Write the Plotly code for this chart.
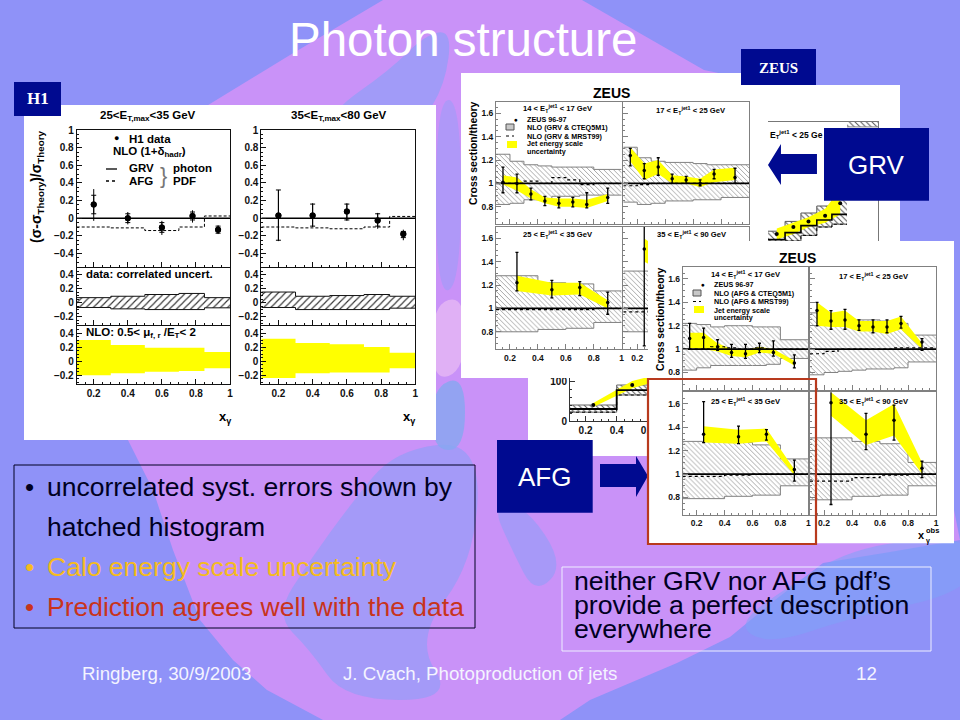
import plotly.graph_objects as go

# ---------- H1 data ----------
H1_X = [0.2, 0.4, 0.6, 0.78, 0.93]
H1_EDGES = [0.1, 0.3, 0.5, 0.7, 0.85, 1.0]

H1L_Y = [0.155, 0.0, -0.105, 0.025, -0.13]
H1L_TOT_HI = [0.33, 0.07, -0.03, 0.09, -0.08]
H1L_TOT_LO = [-0.03, -0.07, -0.19, -0.05, -0.18]
H1L_STAT_HI = [0.26, 0.05, -0.05, 0.07, -0.09]
H1L_STAT_LO = [0.05, -0.05, -0.16, -0.02, -0.17]
H1L_AFG = [-0.10, -0.11, -0.14, -0.10, 0.025]
H1L_CORR_HI = [0.07, 0.09, 0.115, 0.13, 0.07]
H1L_CORR_LO = [-0.07, -0.09, -0.10, -0.10, -0.075]
H1L_SCALE_HI = [0.30, 0.23, 0.19, 0.19, 0.13]
H1L_SCALE_LO = [-0.20, -0.17, -0.15, -0.14, -0.10]

H1R_Y = [0.03, 0.03, 0.075, -0.025, -0.18]
H1R_TOT_HI = [0.32, 0.17, 0.17, 0.06, -0.13]
H1R_TOT_LO = [-0.26, -0.10, -0.03, -0.12, -0.25]
H1R_STAT_HI = [0.32, 0.16, 0.16, 0.05, -0.15]
H1R_STAT_LO = [-0.25, -0.09, -0.02, -0.09, -0.22]
H1R_AFG = [-0.10, -0.11, -0.12, -0.10, 0.02]
H1R_CORR_HI = [0.15, 0.09, 0.10, 0.115, 0.09]
H1R_CORR_LO = [-0.07, -0.10, -0.10, -0.10, -0.08]
H1R_SCALE_HI = [0.32, 0.26, 0.24, 0.20, 0.12]
H1R_SCALE_LO = [-0.24, -0.17, -0.16, -0.16, -0.10]

# ---------- ZEUS data ----------
X8 = [0.15, 0.25, 0.35, 0.45, 0.55, 0.65, 0.75, 0.9]
X4 = [0.25, 0.5, 0.7, 0.9]
E8 = [0.1, 0.2, 0.3, 0.4, 0.5, 0.6, 0.7, 0.8, 1.0]
E4 = [0.1, 0.4, 0.6, 0.8, 1.0]

# GRV sheet
G1_Y = [1.01, 1.0, 0.91, 0.85, 0.83, 0.84, 0.82, 0.88]
G1_TOP = [1.14, 1.08, 0.96, 0.89, 0.88, 0.88, 0.92, 0.96]
G1_BOT = [0.92, 0.92, 0.86, 0.81, 0.79, 0.80, 0.79, 0.83]
G1_YEL_HI = [1.07, 1.05, 0.95, 0.88, 0.87, 0.87, 0.86, 0.91]
G1_YEL_LO = [0.99, 0.94, 0.87, 0.83, 0.80, 0.80, 0.79, 0.85]
G1_H_HI = [1.25, 1.19, 1.16, 1.15, 1.14, 1.14, 1.14, 1.12]
G1_H_LO = [0.82, 0.83, 0.86, 0.87, 0.89, 0.89, 0.90, 0.90]
G1_DOT = [1.0, 1.0, 1.02, 1.0, 1.05, 1.03, 0.99, 1.0]

G2_Y = [1.24, 1.11, 1.14, 1.04, 1.03, 1.0, 1.08, 1.05]
G2_TOP = [1.30, 1.17, 1.22, 1.08, 1.06, 1.03, 1.12, 1.13]
G2_BOT = [1.15, 1.04, 1.07, 1.0, 1.0, 0.98, 1.04, 1.0]
G2_YEL_HI = [1.31, 1.17, 1.20, 1.07, 1.06, 1.04, 1.12, 1.135]
G2_YEL_LO = [1.19, 1.03, 1.08, 1.0, 1.0, 0.97, 1.01, 1.03]
G2_H_HI = [1.31, 1.22, 1.19, 1.18, 1.18, 1.17, 1.16, 1.16]
G2_H_LO = [0.84, 0.82, 0.83, 0.85, 0.85, 0.86, 0.86, 0.88]
G2_DOT = [0.98, 0.99, 1.0, 1.0, 1.0, 1.0, 1.0, 1.0]

G3_Y = [1.22, 1.16, 1.18, 1.05]
G3_TOP = [1.48, 1.24, 1.23, 1.14]
G3_BOT = [1.15, 1.09, 1.11, 0.95]
G3_YEL_HI = [1.28, 1.22, 1.22, 1.07]
G3_YEL_LO = [1.15, 1.11, 1.12, 1.0]
G3_H_HI = [1.28, 1.22, 1.21, 1.15]
G3_H_LO = [0.80, 0.82, 0.83, 0.88]
G3_DOT = [0.99, 0.99, 0.99, 1.0]

G4_Y = [1.51, 1.35, 1.3, 1.1]
G4_TOP = [1.72, 1.5, 1.45, 1.17]
G4_BOT = [0.68, 1.2, 1.15, 1.0]
G4_YEL_HI = [1.6, 1.4, 1.35, 1.12]
G4_YEL_LO = [1.4, 1.25, 1.2, 1.02]
G4_H_HI = [1.32, 1.28, 1.26, 1.12]
G4_H_LO = [0.80, 0.82, 0.83, 0.9]
G4_DOT = [0.97, 0.98, 1.0, 1.0]

# AFG sheet
A1_Y = [1.09, 1.10, 1.02, 0.97, 0.96, 1.0, 0.97, 0.88]
A1_TOP = [1.22, 1.18, 1.08, 1.04, 1.04, 1.05, 1.07, 0.95]
A1_BOT = [1.0, 1.0, 0.99, 0.93, 0.92, 0.97, 0.94, 0.84]
A1_YEL_HI = [1.14, 1.14, 1.05, 1.0, 0.99, 1.02, 1.0, 0.90]
A1_YEL_LO = [1.01, 1.0, 0.98, 0.94, 0.93, 0.97, 0.96, 0.86]
A1_H_HI = [1.22, 1.21, 1.19, 1.20, 1.20, 1.19, 1.19, 1.08]
A1_H_LO = [0.82, 0.84, 0.86, 0.86, 0.86, 0.86, 0.87, 0.92]
A1_DOT = [1.0, 1.0, 1.02, 1.01, 1.0, 1.01, 1.0, 1.0]

A2_Y = [1.33, 1.24, 1.25, 1.20, 1.19, 1.19, 1.22, 1.06]
A2_TOP = [1.40, 1.33, 1.34, 1.25, 1.25, 1.25, 1.28, 1.09]
A2_BOT = [1.20, 1.17, 1.17, 1.16, 1.14, 1.14, 1.18, 0.99]
A2_YEL_HI = [1.40, 1.31, 1.33, 1.24, 1.24, 1.24, 1.28, 1.05]
A2_YEL_LO = [1.20, 1.19, 1.19, 1.15, 1.15, 1.13, 1.17, 1.0]
A2_H_HI = [1.31, 1.28, 1.26, 1.25, 1.25, 1.24, 1.22, 1.12]
A2_H_LO = [0.78, 0.80, 0.81, 0.82, 0.83, 0.83, 0.84, 0.89]
A2_DOT = [0.96, 0.98, 1.0, 1.0, 1.0, 1.0, 1.01, 1.01]

A3_Y = [1.34, 1.32, 1.34, 1.04]
A3_TOP = [1.62, 1.41, 1.38, 1.12]
A3_BOT = [1.27, 1.26, 1.29, 0.94]
A3_YEL_HI = [1.41, 1.38, 1.39, 1.04]
A3_YEL_LO = [1.27, 1.26, 1.28, 0.99]
A3_H_HI = [1.28, 1.27, 1.25, 1.13]
A3_H_LO = [0.79, 0.81, 0.82, 0.90]
A3_DOT = [0.98, 0.99, 1.0, 1.0]

A4_Y = [1.61, 1.34, 1.46, 1.05]
A4_TOP = [1.73, 1.52, 1.59, 1.11]
A4_BOT = [0.74, 1.21, 1.29, 0.97]
A4_YEL_HI = [1.70, 1.46, 1.60, 1.10]
A4_YEL_LO = [1.50, 1.25, 1.33, 1.0]
A4_H_HI = [1.31, 1.28, 1.26, 1.10]
A4_H_LO = [0.78, 0.81, 0.82, 0.90]
A4_DOT = [0.94, 0.97, 0.99, 1.0]

# third, mostly hidden sheet
C_EDGES = [0.1, 0.4, 0.7]
C_NLO = [30, 77]
C_HI = [40, 90]
C_LO = [22, 65]
C_X = [0.25, 0.5]
C_Y = [40, 90]
C_YEL_X = [0.25, 0.5, 0.62]
C_YEL_HI = [45, 100, 112]
C_YEL_LO = [35, 82, 95]

D_EDGES = [0.27, 0.385, 0.49, 0.595, 0.695, 0.795]
D_NLO = [16, 21, 26, 30, 34]
D_HI = [22, 29, 35, 40, 50]
D_LO = [10, 15, 19, 25, 27]
D_X = [0.33, 0.44, 0.54, 0.65, 0.75]
D_Y = [20, 25, 29, 33, 42]
D_YEL_HI = [24, 28, 32, 38, 52]
D_YEL_LO = [16, 20, 25, 28, 34]
D2_EDGES = [0.795, 1.0]
D2_HI = [110]
D2_LO = [96.5]

TITLE = "Photon structure"
BULLETS = ["uncorrelated syst. errors shown by", "hatched histogram",
           "Calo energy scale uncertainty", "Prediction agrees well with the data"]
NOTE_LINES = ["neither GRV nor AFG pdf\u2019s", "provide a perfect description", "everywhere"]

# ---------- helpers ----------
W, H = 960, 720
SANS = "Liberation Sans"
SERIF = "Liberation Serif"
NAVY = "#000a90"
LILAC = "#c992f8"
BLUE = "#8f92f8"
STREAK = "#7fa2f8"
YEL = "#ffff00"

fig = go.Figure()
shapes, notes = [], []


def px(x):
    return x / W


def py(y):
    return 1 - y / H


def ids(n):
    s = "" if n == 1 else str(n)
    return "x" + s, "y" + s, "xaxis" + s, "yaxis" + s


def panel(n, left, right, top, bottom, xr, yr, color="#777777", size=8, xlabels=True, ylabels=True,
          ydtick=0.2, ytick0=0.0, yminor=0.05, xminor=0.05):
    xid, yid, xk, yk = ids(n)
    common = dict(showline=True, mirror=True, linecolor=color, linewidth=1, ticks="inside", ticklen=5,
                  tickcolor=color, showgrid=False, zeroline=False, fixedrange=True, automargin=False,
                  tickfont=dict(family=SANS, size=size, color="#111111", weight="bold"), layer="above traces")
    fig.layout[xk] = dict(domain=[px(left), px(right)], range=xr, anchor=yid, dtick=0.2, tick0=0.0,
                          showticklabels=xlabels,
                          minor=dict(dtick=xminor, tick0=0, ticks="inside", ticklen=2, tickcolor=color), **common)
    fig.layout[yk] = dict(domain=[py(bottom), py(top)], range=yr, anchor=xid, dtick=ydtick, tick0=ytick0,
                          showticklabels=ylabels,
                          minor=dict(dtick=yminor, tick0=0, ticks="inside", ticklen=2, tickcolor=color), **common)
    return xid, yid


def sheet(n, left, right, top, bottom):
    xid, yid, xk, yk = ids(n)
    fig.layout[xk] = dict(domain=[px(left), px(right)], range=[0, 1], anchor=yid, visible=False, fixedrange=True)
    fig.layout[yk] = dict(domain=[py(bottom), py(top)], range=[0, 1], anchor=xid, visible=False, fixedrange=True)
    fig.add_trace(go.Scatter(x=[0, 1, 1, 0, 0], y=[0, 0, 1, 1, 0], xaxis=xid, yaxis=yid, mode="lines",
                             line=dict(width=0), fill="toself", fillcolor="white", hoverinfo="skip"))


def steps(edges, vals):
    return edges, list(vals) + [vals[-1]]


def band(a, edges, lo, hi, fill=None, pattern=None, line=None, lw=1):
    xid, yid = a
    x, y_lo = steps(edges, lo)
    _, y_hi = steps(edges, hi)
    ln = dict(color=line or "rgba(0,0,0,0)", width=lw, shape="hv")
    fig.add_trace(go.Scatter(x=x, y=y_lo, xaxis=xid, yaxis=yid, mode="lines", line=ln, hoverinfo="skip"))
    kw = dict(fillcolor=fill) if fill else dict(fillpattern=pattern, fillcolor="white")
    fig.add_trace(go.Scatter(x=x, y=y_hi, xaxis=xid, yaxis=yid, mode="lines", line=ln, fill="tonexty",
                             hoverinfo="skip", **kw))


def ramp(a, x, lo, hi):
    xid, yid = a
    fig.add_trace(go.Scatter(x=x, y=lo, xaxis=xid, yaxis=yid, mode="lines", line=dict(width=0), hoverinfo="skip"))
    fig.add_trace(go.Scatter(x=x, y=hi, xaxis=xid, yaxis=yid, mode="lines", line=dict(width=0), fill="tonexty",
                             fillcolor=YEL, hoverinfo="skip"))


def hist(a, edges, vals, color="black", width=1, dash="solid"):
    xid, yid = a
    x, y = steps(edges, vals)
    fig.add_trace(go.Scatter(x=x, y=y, xaxis=xid, yaxis=yid, mode="lines", hoverinfo="skip",
                             line=dict(color=color, width=width, dash=dash, shape="hv")))


def points(a, x, y, top, bot, msize=4, cap=0, thick=1.3):
    xid, yid = a
    fig.add_trace(go.Scatter(x=x, y=y, xaxis=xid, yaxis=yid, mode="markers", hoverinfo="skip",
                             marker=dict(color="black", size=msize),
                             error_y=dict(type="data", symmetric=False, array=[t - v for t, v in zip(top, y)],
                                          arrayminus=[v - b for b, v in zip(bot, y)], color="black",
                                          thickness=thick, width=cap)))


def note(x, y, text, size, color="black", anchor="left", family=SANS, weight="normal", angle=0):
    notes.append(dict(x=px(x), y=py(y), xref="paper", yref="paper", text=text, showarrow=False, xanchor=anchor,
                      yanchor="middle", textangle=angle, borderpad=0,
                      font=dict(family=family, size=size, color=color, weight=weight)))


def rect(x0, y0, x1, y1, fill="rgba(0,0,0,0)", line=None, lw=1, layer="above", opacity=1):
    shapes.append(dict(type="rect", xref="paper", yref="paper", x0=px(x0), x1=px(x1), y0=py(y0), y1=py(y1),
                       fillcolor=fill, line=dict(color=line or "rgba(0,0,0,0)", width=lw if line else 0),
                       layer=layer, opacity=opacity))


def poly(points_px, fill, layer="above", opacity=1):
    pts = [(px(a), py(b)) for a, b in points_px]
    path = "M " + " L ".join(f"{a:.4f},{b:.4f}" for a, b in pts) + " Z"
    shapes.append(dict(type="path", xref="paper", yref="paper", path=path, fillcolor=fill, layer=layer,
                       line=dict(width=0), opacity=opacity))


def blob(points_px, fill, opacity=1):
    """Background patch: a closed outline rounded through the midpoints of its sides."""
    pts = [(px(a), py(b)) for a, b in points_px]
    n = len(pts)
    mid = [((pts[i][0] + pts[(i + 1) % n][0]) / 2, (pts[i][1] + pts[(i + 1) % n][1]) / 2) for i in range(n)]
    path = f"M {mid[-1][0]:.4f},{mid[-1][1]:.4f} "
    for i in range(n):
        path += f"Q {pts[i][0]:.4f},{pts[i][1]:.4f} {mid[i][0]:.4f},{mid[i][1]:.4f} "
    shapes.append(dict(type="path", xref="paper", yref="paper", path=path + "Z", fillcolor=fill, layer="below",
                       line=dict(width=0), opacity=opacity))


def hline(x0, x1, y, dash="solid", lw=1, color="black"):
    shapes.append(dict(type="line", xref="paper", yref="paper", x0=px(x0), x1=px(x1), y0=py(y), y1=py(y),
                       line=dict(color=color, width=lw, dash=dash), layer="above"))


# ---------- slide background ----------
poly([(383, 0), (582, 0), (704, 70), (800, 90), (900, 240), (960, 540), (890, 552), (823, 563), (775, 600), (730, 637),
      (677, 663), (590, 700), (560, 720), (323, 720), (267, 690), (233, 660), (200, 620), (173, 550), (153, 490),
      (128, 440), (110, 300), (200, 110), (290, 55)], LILAC, layer="below")
blob([(452, 30), (425, 35), (390, 70), (330, 112), (345, 128), (420, 125), (445, 85)], STREAK, opacity=0.55)
blob([(480, 440), (395, 450), (350, 505), (310, 560), (275, 615), (310, 650), (345, 700), (455, 700), (415, 640),
      (475, 560)], STREAK, opacity=0.5)
blob([(975, 535), (860, 545), (790, 585), (735, 625), (770, 645), (850, 618), (975, 590)], STREAK, opacity=0.55)
blob([(492, 505), (525, 505), (565, 565), (535, 595), (512, 550)], STREAK, opacity=0.45)
blob([(436, 100), (461, 100), (461, 285), (436, 295)], STREAK, opacity=0.35)
blob([(432, 305), (465, 295), (465, 370), (432, 382)], "#e2b4f4", opacity=0.9)
blob([(432, 388), (465, 375), (465, 450), (432, 450)], "#86a8f0", opacity=0.8)

# ---------- H1 sheet ----------
rect(24, 105, 436, 440, fill="white", layer="below")
H1COL = "#111111"
H1_TOPR = [-0.55, 1.0]
H1_MIDR = [-0.32, 0.5]
a1 = panel(1, 76.7, 230, 130, 266.7, [0.1, 1.0], H1_TOPR, H1COL, 10, False, True)
a2 = panel(2, 76.7, 230, 267.5, 325, [0.1, 1.0], H1_MIDR, H1COL, 10, False, True)
a3 = panel(3, 76.7, 230, 326, 383.7, [0.1, 1.0], H1_MIDR, H1COL, 10, True, True)
a4 = panel(4, 261.3, 415.3, 130, 266.7, [0.1, 1.0], H1_TOPR, H1COL, 10, False, True)
a5 = panel(5, 261.3, 415.3, 267.5, 325, [0.1, 1.0], H1_MIDR, H1COL, 10, False, True)
a6 = panel(6, 261.3, 415.3, 326, 383.7, [0.1, 1.0], H1_MIDR, H1COL, 10, True, True)

H1PAT = dict(shape="/", size=5, solidity=0.22, fgcolor="#333333", bgcolor="white")
for top_a, mid_a, bot_a, y, th, tl, sh, sl, afg, ch, cl, yh, yl in [
    (a1, a2, a3, H1L_Y, H1L_TOT_HI, H1L_TOT_LO, H1L_STAT_HI, H1L_STAT_LO, H1L_AFG, H1L_CORR_HI, H1L_CORR_LO,
     H1L_SCALE_HI, H1L_SCALE_LO),
    (a4, a5, a6, H1R_Y, H1R_TOT_HI, H1R_TOT_LO, H1R_STAT_HI, H1R_STAT_LO, H1R_AFG, H1R_CORR_HI, H1R_CORR_LO,
     H1R_SCALE_HI, H1R_SCALE_LO),
]:
    hist(top_a, H1_EDGES, [0, 0, 0, 0, 0], "black", 1.5)
    hist(top_a, H1_EDGES, afg, "black", 1, "3px,2px")
    points(top_a, H1_X, y, th, tl, msize=6, cap=0, thick=1)
    points(top_a, H1_X, y, sh, sl, msize=6, cap=2.5, thick=1)
    band(mid_a, H1_EDGES, cl, ch, pattern=H1PAT, line="#111111", lw=1)
    band(bot_a, H1_EDGES, yl, yh, fill=YEL)

note(148, 116, "25&lt;E<sub>T,max</sub>&lt;35 GeV", 11.5, anchor="center", weight="bold")
note(339, 116, "35&lt;E<sub>T,max</sub>&lt;80 GeV", 11.5, anchor="center", weight="bold")
note(37, 187, "(\u03c3-\u03c3<sub>Theory</sub>)/\u03c3<sub>Theory</sub>", 14, anchor="center", weight="bold", angle=-90)
note(116.5, 138, "\u25cf", 9, anchor="center")
note(128, 138.5, "H1 data", 11.5, weight="bold")
note(112, 152, "NLO (1+\u03b4<sub>hadr</sub>)", 11.5, weight="bold")
hline(106, 117, 169, lw=1.3)
hline(106, 117, 181, dash="dot", lw=1.3)
note(128, 168, "GRV", 11.5, weight="bold")
note(128, 181, "AFG", 11.5, weight="bold")
note(172, 168, "photon", 11.5, weight="bold")
note(172, 181, "PDF", 11.5, weight="bold")
note(163, 175, "}", 22, anchor="center", color="#777777")
note(85, 274, "data: correlated uncert.", 11.4, weight="bold")
note(85, 333, "NLO: 0.5&lt; \u03bc<sub>f, r</sub> /E<sub>T</sub>&lt; 2", 11.5, weight="bold")
note(225, 417, "x<sub>\u03b3</sub>", 13, anchor="center", weight="bold")
note(409, 417, "x<sub>\u03b3</sub>", 13, anchor="center", weight="bold")

# ---------- third, mostly hidden sheet ----------
rect(528, 85, 900, 456, fill="white", layer="below")
a7 = panel(7, 570, 710, 340, 421, [0.1, 1.0], [0, 202.5], "#333333", 10, True, True, ydtick=100, yminor=20)
band(a7, C_EDGES, C_LO, C_HI, pattern=dict(shape="\\", size=4, solidity=0.25, fgcolor="#555555", bgcolor="white"), line="#666666")
ramp(a7, C_YEL_X, C_YEL_LO, C_YEL_HI)
hist(a7, C_EDGES, C_NLO, "black", 1.8)
hist(a7, C_EDGES, C_LO, "black", 1, "dot")
fig.add_trace(go.Scatter(x=C_X, y=C_Y, xaxis=a7[0], yaxis=a7[1], mode="markers", marker=dict(color="black", size=4),
                         hoverinfo="skip"))
a8 = panel(8, 742, 878, 122, 262, [0.1, 1.0], [0, 100], "#777777", 8, False, False, ydtick=20, yminor=5)
band(a8, D_EDGES, D_LO, D_HI, pattern=dict(shape="\\", size=4, solidity=0.25, fgcolor="#555555", bgcolor="white"), line="#555555")
band(a8, D2_EDGES, D2_LO, D2_HI, pattern=dict(shape="\\", size=4, solidity=0.25, fgcolor="#555555", bgcolor="white"), line="#888888")
ramp(a8, D_X, D_YEL_LO, D_YEL_HI)
hist(a8, D_EDGES, D_NLO, "black", 1.6)
hist(a8, D_EDGES, D_LO, "black", 1, "dot")
fig.add_trace(go.Scatter(x=D_X, y=D_Y, xaxis=a8[0], yaxis=a8[1], mode="markers", marker=dict(color="black", size=4),
                         hoverinfo="skip"))
note(769, 134, "E<sub>T</sub><sup>jet1</sup> &lt; 25 Ge", 8.5, weight="bold")

# ---------- ZEUS sheets ----------
HATCH = dict(shape="\\", size=3.5, solidity=0.18, fgcolor="#777777", bgcolor="white")
YR = [0.65, 1.7]


def zeus_panel(n, box, xe, xp, h_lo, h_hi, yel_lo, yel_hi, y, top, bot, dot, xlabels, ylabels):
    a = panel(n, box[0], box[1], box[2], box[3], [0.1, 1.0], YR, "#808080", 8.5, xlabels, ylabels, ydtick=0.2, ytick0=1.0,
              yminor=0.05)
    band(a, xe, h_lo, h_hi, pattern=HATCH, line="#808080", lw=1)
    ramp(a, xp, yel_lo, yel_hi)
    hist(a, xe, dot, "black", 1.2, "dot")
    fig.add_trace(go.Scatter(x=[0.1, 1.0], y=[1, 1], xaxis=a[0], yaxis=a[1], mode="lines",
                             line=dict(color="black", width=1.7), hoverinfo="skip"))
    points(a, xp, y, top, bot, msize=3.5, cap=1.5, thick=1.3)


# GRV: left column 496-622, right column 623-749
sheet(9, 461, 768, 73, 378)
zeus_panel(10, (496, 621.7, 101.7, 224.3), E8, X8, G1_H_LO, G1_H_HI, G1_YEL_LO, G1_YEL_HI, G1_Y, G1_TOP, G1_BOT, G1_DOT, False, True)
zeus_panel(11, (623.3, 749, 101.7, 224.3), E8, X8, G2_H_LO, G2_H_HI, G2_YEL_LO, G2_YEL_HI, G2_Y, G2_TOP, G2_BOT, G2_DOT, False, False)
zeus_panel(12, (496, 621.7, 226.7, 349.3), E4, X4, G3_H_LO, G3_H_HI, G3_YEL_LO, G3_YEL_HI, G3_Y, G3_TOP, G3_BOT, G3_DOT, True, True)
zeus_panel(13, (623.3, 749, 226.7, 349.3), E4, X4, G4_H_LO, G4_H_HI, G4_YEL_LO, G4_YEL_HI, G4_Y, G4_TOP, G4_BOT, G4_DOT, True, False)

# AFG: left column 683-808, right column 810-936
sheet(14, 648, 954, 241, 543.5)
zeus_panel(15, (682.7, 808.3, 267.3, 390), E8, X8, A1_H_LO, A1_H_HI, A1_YEL_LO, A1_YEL_HI, A1_Y, A1_TOP, A1_BOT, A1_DOT, False, True)
zeus_panel(16, (810, 936, 267.3, 390), E8, X8, A2_H_LO, A2_H_HI, A2_YEL_LO, A2_YEL_HI, A2_Y, A2_TOP, A2_BOT, A2_DOT, False, False)
zeus_panel(17, (682.7, 808.3, 392.3, 515), E4, X4, A3_H_LO, A3_H_HI, A3_YEL_LO, A3_YEL_HI, A3_Y, A3_TOP, A3_BOT, A3_DOT, True, True)
zeus_panel(18, (810, 936, 392.3, 515), E4, X4, A4_H_LO, A4_H_HI, A4_YEL_LO, A4_YEL_HI, A4_Y, A4_TOP, A4_BOT, A4_DOT, True, False)

JET = "E<sub>T</sub><sup>jet1</sup>"
ZS = 7.6
LS = 7.2
# GRV annotations
note(611, 93, "ZEUS", 14, anchor="center", weight="bold")
note(473, 153, "Cross section/theory", 10.4, anchor="center", weight="bold", angle=-90)
note(558, 108, f"14 &lt; {JET} &lt; 17 GeV", ZS, anchor="center", weight="bold")
note(691, 110, f"17 &lt; {JET} &lt; 25 GeV", ZS, anchor="center", weight="bold")
note(558, 235, f"25 &lt; {JET} &lt; 35 GeV", ZS, anchor="center", weight="bold")
note(692, 235, f"35 &lt; {JET} &lt; 90 GeV", ZS, anchor="center", weight="bold")
note(516, 119.5, "\u25cf", 6.5, anchor="center")
note(526, 119.5, "ZEUS 96-97", LS, weight="bold")
rect(506, 124, 514, 130, fill="#c8c8c8", line="#555555")
note(526, 127.5, "NLO (GRV &amp; CTEQ5M1)", LS, weight="bold")
hline(506, 514, 136, dash="dot")
note(526, 136, "NLO (GRV &amp; MRST99)", LS, weight="bold")
rect(507, 141, 517, 148, fill=YEL)
note(526, 144, "Jet energy scale", LS, weight="bold")
note(526, 151, "uncertainty", LS, weight="bold")
# AFG annotations
note(797, 258, "ZEUS", 14, anchor="center", weight="bold")
note(660, 319, "Cross section/theory", 10.4, anchor="center", weight="bold", angle=-90)
note(746, 274, f"14 &lt; {JET} &lt; 17 GeV", ZS, anchor="center", weight="bold")
note(874, 276, f"17 &lt; {JET} &lt; 25 GeV", ZS, anchor="center", weight="bold")
note(746, 401, f"25 &lt; {JET} &lt; 35 GeV", ZS, anchor="center", weight="bold")
note(874, 401, f"35 &lt; {JET} &lt; 90 GeV", ZS, anchor="center", weight="bold")
note(703, 285, "\u25cf", 6.5, anchor="center")
note(713, 285, "ZEUS 96-97", LS, weight="bold")
rect(693, 290, 701, 296, fill="#c8c8c8", line="#555555")
note(713, 293, "NLO (AFG &amp; CTEQ5M1)", LS, weight="bold")
hline(693, 701, 301.5, dash="dot")
note(713, 301.5, "NLO (AFG &amp; MRST99)", LS, weight="bold")
rect(694, 306, 704, 313, fill=YEL)
note(713, 310, "Jet energy scale", LS, weight="bold")
note(713, 317, "uncertainty", LS, weight="bold")
note(921, 535, "x", 11, anchor="center", weight="bold")
note(925, 530, "obs", 7.5, anchor="left", weight="bold")
note(925, 541, "\u03b3", 7, anchor="left", weight="bold")

# ---------- slide furniture ----------
note(463.5, 39, TITLE, 47.5, "white", "center")
rect(14, 82, 61, 116, fill=NAVY)
note(37.5, 99, "H1", 17, "white", "center", SERIF, "bold")
rect(741, 49, 816, 85, fill=NAVY)
note(778.5, 68, "ZEUS", 15, "white", "center", SERIF, "bold")
rect(824, 128, 929, 200.7, fill=NAVY)
note(876.5, 165, "GRV", 26, "white", "center")
rect(497, 440, 592.7, 512.7, fill=NAVY)
note(544.5, 477, "AFG", 26, "white", "center")
poly([(768, 165), (781, 144), (781, 154), (817, 154), (817, 174), (781, 174), (781, 185)], NAVY)
poly([(600, 464), (636, 464), (636, 456), (648, 476), (636, 497), (636, 487), (600, 487)], NAVY)
rect(648, 379, 816, 544, line="#b83a1e", lw=2.2)

rect(14, 465, 475, 628, line="#000022", lw=1)
for yy, txt, col in zip([487, 527, 567, 607], BULLETS, ["#000022", "#000022", "#f5bb1e", "#c8341c"]):
    note(46, yy, txt, 26.5, col)
for yy, col in zip([487, 567, 607], ["#000022", "#f5bb1e", "#c8341c"]):
    note(29, yy, "\u2022", 26, col, "center")
rect(562, 567, 931, 651, line="#eeeeff", lw=1)
for yy, txt in zip([581, 605, 629], NOTE_LINES):
    note(572.5, yy, txt, 26.7, "#000022")
note(81, 673, "Ringberg, 30/9/2003", 18.7, "#f4f4ff")
note(342, 673, "J. Cvach, Photoproduction of jets", 18.7, "#f4f4ff")
note(878, 673, "12", 18.7, "#f4f4ff", "right")

fig.update_layout(width=W, height=H, margin=dict(l=0, r=0, t=0, b=0, pad=0), paper_bgcolor=BLUE,
                  plot_bgcolor="rgba(0,0,0,0)", template="none",
                  showlegend=False, autosize=False, shapes=shapes, annotations=notes,
                  font=dict(family=SANS), hovermode=False)
fig.write_html("out.html", config=dict(displayModeBar=False),
               post_script="document.body.style.margin='0';document.documentElement.style.overflow='hidden';")
